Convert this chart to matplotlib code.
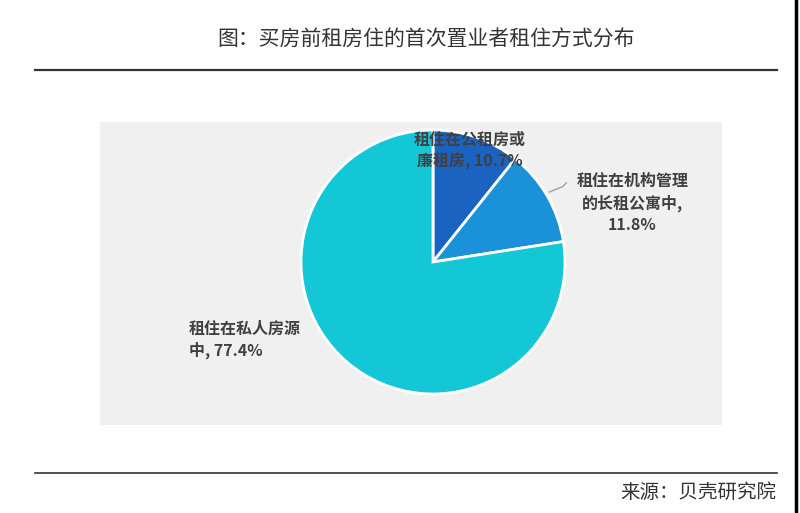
import matplotlib.pyplot as plt
from matplotlib.lines import Line2D

plt.rcParams['font.family'] = ['Noto Sans CJK SC', 'DejaVu Sans']

# data
categories = ['租住在公租房或\n廉租房', '租住在机构管理\n的长租公寓中,\n', '租住在私人房源\n中']
shares = [10.7, 11.8, 77.4]
colors = ['#1b63c1', '#1a91d9', '#13c7d6']

title = '图：买房前租房住的首次置业者租住方式分布'
source = '来源：贝壳研究院'

W, H = 800, 513
fig = plt.figure(figsize=(W / 100, H / 100), dpi=100)
fig.patch.set_facecolor('white')

def px_rect(x0, y0, x1, y1):
    # pixel box (top-left origin) -> figure fraction [l, b, w, h]
    return [x0 / W, 1 - y1 / H, (x1 - x0) / W, (y1 - y0) / H]

# gray panel behind the pie
panel = fig.add_axes(px_rect(100, 122, 722, 425))
panel.set_facecolor('#f0f0f0')
panel.set_xticks([])
panel.set_yticks([])
for s in panel.spines.values():
    s.set_visible(False)

# pie axes: center (433, 262), radius 132 px
R = 132
half = 150
ax = fig.add_axes(px_rect(433 - half, 262 - half, 433 + half, 262 + half))
ax.set_facecolor('none')

ax.pie(shares, colors=colors, startangle=90, counterclock=False, radius=1,
       wedgeprops=dict(edgecolor='white', linewidth=2))

lim = half / R
ax.set_xlim(-lim, lim)
ax.set_ylim(-lim, lim)
ax.set_aspect('equal')
ax.axis('off')

txt = dict(fontsize=11.5, fontweight='bold', color='#404040', linespacing=1.4)
ax.text(0.28, 0.84, f'{categories[0]}, {shares[0]}%', ha='center', va='center',
        multialignment='center', **txt)
ax.text(1.51, 0.45, f'{categories[1]}{shares[1]}%', ha='center', va='center',
        multialignment='center', **txt)
ax.text(-1.85, -0.59, f'{categories[2]}, {shares[2]}%', ha='left', va='center',
        multialignment='left', **txt)
ax.plot([0.88, 0.98, 1.01], [0.53, 0.57, 0.60], color='#a0a0a0', lw=1, clip_on=False)

# title, rules and source
fig.text(426 / W, 1 - 40 / H, title, ha='center', va='center', fontsize=15, color='#333333')
fig.add_artist(Line2D([35 / W, 777 / W], [1 - 70 / H, 1 - 70 / H], color='#333333', lw=1.6))
fig.add_artist(Line2D([35 / W, 777 / W], [1 - 473 / H, 1 - 473 / H], color='#333333', lw=1.2))
fig.text(776 / W, 1 - 492 / H, source, ha='right', va='center', fontsize=14, color='#333333')
fig.add_artist(Line2D([795.5 / W, 795.5 / W], [0, 1], color='black', lw=2.5))

fig.savefig('out.png', dpi=100)
